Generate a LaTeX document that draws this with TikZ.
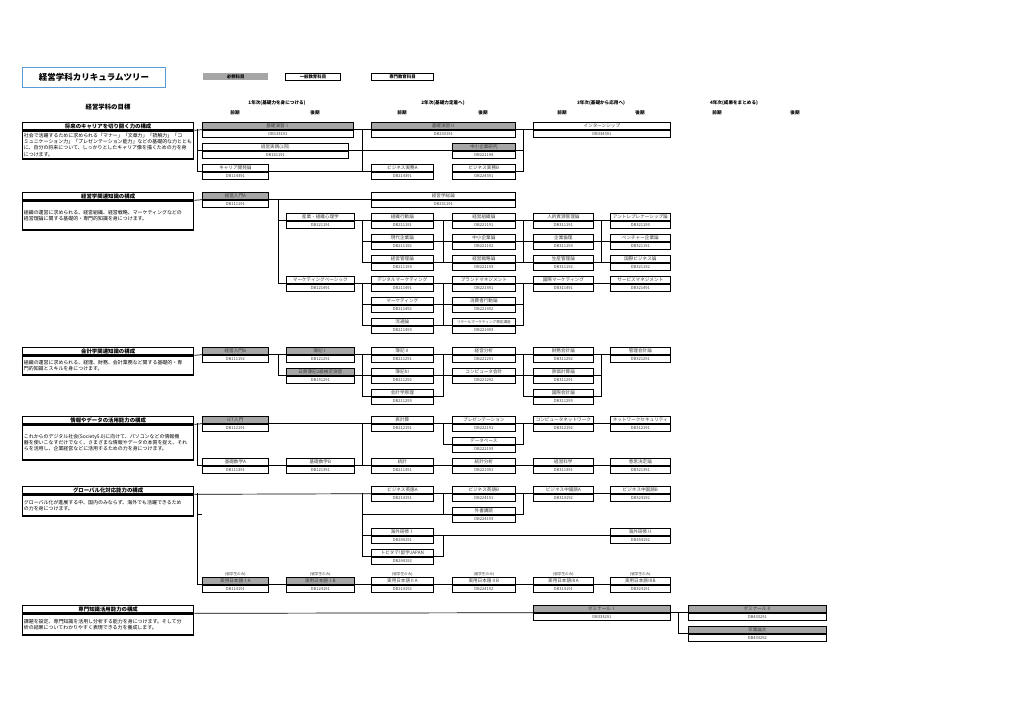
\documentclass[tikz,border=0pt]{standalone}
\usepackage{fontspec}
\setmainfont{Noto Sans CJK JP}
\usetikzlibrary{calc}
\definecolor{req}{RGB}{166,166,166}
\definecolor{ttl}{RGB}{91,155,213}
\definecolor{ctext}{RGB}{60,60,60}
\tikzset{
 cname/.style={draw=black, line width=0.7pt, inner sep=0pt, minimum height=7pt, anchor=north west, font=\fontsize{4.6}{5}\selectfont, text=ctext},
 ccode/.style={draw=black, line width=0.7pt, inner sep=0pt, minimum height=7pt, anchor=north, font=\fontsize{4.1}{5}\selectfont, text=ctext, fill=white},
 gtitle/.style={draw, line width=1.3pt, minimum width=171pt, minimum height=7pt, inner sep=0pt, anchor=north west, font=\bfseries\fontsize{5.4}{5.6}\selectfont},
 gbody/.style={draw, line width=1.3pt, minimum width=171pt, inner xsep=1.2pt, inner ysep=0pt, text width=168.6pt, anchor=north, align=left, font=\fontsize{4.95}{6.1}\selectfont},
 link/.style={line width=0.7pt},
 hdr/.style={font=\bfseries\fontsize{4.6}{5}\selectfont, inner sep=0pt},
 legend/.style={minimum height=7pt, inner sep=0pt, anchor=north west, font=\bfseries\fontsize{4.4}{5}\selectfont},
 onlynote/.style={font=\fontsize{3.6}{4}\selectfont, inner sep=0pt, text=ctext, anchor=south, yshift=0.6pt}
}
\newcommand\crs[7]{%
 \node[cname, minimum width=#4pt, fill=#5] (#1) at (#2,#3) {#6};
 \node[ccode, minimum width=#4pt] (#1c) at (#1.south) {#7};}
\newcommand\goal[5]{%
 \node[gtitle] (#1) at (22,#2) {#4};
 \node[gbody, minimum height=#3pt] (#1b) at (#1.south) {#5};}
\begin{document}
\begin{tikzpicture}[x=1pt,y=-1pt]
\useasboundingbox (0,0) rectangle (1024,724);
\fill[white] (0,0) rectangle (1024,724);
% title and legend
\node[draw=ttl, line width=1pt, minimum width=143pt, minimum height=20pt, inner sep=0pt, anchor=north west, font=\bfseries\fontsize{8.5}{9}\selectfont] (title) at (22,67) {経営学科カリキュラムツリー};
\node[legend, fill=req, minimum width=65pt] (lg1) at (203,73) {必修科目};
\node[legend, draw, line width=0.9pt, minimum width=55pt] (lg2) at (285,73) {一般教育科目};
\node[legend, draw, line width=0.9pt, minimum width=62pt] (lg3) at (371,73) {専門教育科目};
\node[font=\bfseries\fontsize{6.4}{7}\selectfont, inner sep=0pt] (goalhd) at (108,107) {経営学科の目標};
% year headers
\node[hdr] (y1) at (277,103) {1年次(基礎力を身につける)};
\node[hdr] (y1a) at (235,113) {前期};
\node[hdr] (y1b) at (315,113) {後期};
\node[hdr] (y2) at (443,103) {2年次(基礎力定着へ)};
\node[hdr] (y2a) at (402,113) {前期};
\node[hdr] (y2b) at (483,113) {後期};
\node[hdr] (y3) at (601,103) {3年次(基礎から応用へ)};
\node[hdr] (y3a) at (562,113) {前期};
\node[hdr] (y3b) at (640,113) {後期};
\node[hdr] (y4) at (734,103) {4年次(成果をまとめる)};
\node[hdr] (y4a) at (717,113) {前期};
\node[hdr] (y4b) at (795,113) {後期};
% goals
\goal{g1}{122}{28}{将来のキャリアを切り開く力の構成}{社会で活躍するために求められる「マナー」「文章力」「読解力」「コ\\ミュニケーション力」「プレゼンテーション能力」などの基礎的な力ととも\\に、自分の将来について、しっかりとしたキャリア像を描くための力を身\\につけます。}
\goal{g2}{192}{29}{経営学関連知識の構成}{組織の運営に求められる、経営組織、経営戦略、マーケティングなどの\\経営理論に関する基礎的・専門的知識を身につけます。}
\goal{g3}{347}{19}{会計学関連知識の構成}{組織の運営に求められる、経理、財務、会計業務など関する基礎的・専\\門的知識とスキルを身につけます。}
\goal{g4}{416}{35}{情報やデータの活用能力の構成}{これからのデジタル社会(Society5.0)に向けて、パソコンなどの情報機\\器を使いこなすだけでなく、さまざまな情報やデータの本質を捉え、それ\\らを活用し、企業経営などに活用するための力を身につけます。}
\goal{g5}{486}{21}{グローバル化対応能力の構成}{グローバル化が進展する中、国内のみならず、海外でも活躍できるため\\の力を身につけます。}
\goal{g6}{605}{21}{専門知識活用能力の構成}{課題を設定、専門知識を活用し分析する能力を身につけます。そして分\\析の結果についてわかりやすく表現できる力を養成します。}
% ---- section 1
\crs{kiso1}{202}{122}{151}{req}{基礎演習Ⅰ}{DB133191}
\crs{jissen}{202}{143}{146}{white}{経営実践(1回)}{DB161191}
\crs{career}{202}{164}{66}{white}{キャリア開発論}{DB114391}
\crs{kiso2}{371}{122}{144}{req}{基礎演習Ⅱ}{DB233191}
\crs{chusho}{452}{143}{63}{req}{中小企業研究}{DB221194}
\crs{bizA}{371}{164}{62}{white}{ビジネス実務A}{DB214391}
\crs{bizB}{452}{164}{63}{white}{ビジネス実務B}{DB224391}
\crs{intern}{533}{122}{137}{white}{インターンシップ}{DB334391}
% ---- section 2
\crs{keiA}{202}{192}{66}{req}{経営入門A}{DB111191}
\crs{soron}{371}{192}{144}{white}{経営学総論}{DB231191}
\crs{sangyo}{286}{213}{68}{white}{産業・組織心理学}{DB121191}
\crs{mktb}{286}{276}{68}{white}{マーケティングベーシック}{DB121491}
\crs{soshiki}{371}{213}{62}{white}{組織行動論}{DB211191}
\crs{gendai}{371}{234}{62}{white}{現代企業論}{DB211192}
\crs{keikan}{371}{255}{62}{white}{経営管理論}{DB211193}
\crs{digi}{371}{276}{62}{white}{デジタルマーケティング}{DB211491}
\crs{mkt}{371}{297}{62}{white}{マーケティング}{DB211492}
\crs{ryutsu}{371}{318}{62}{white}{流通論}{DB211493}
\crs{soshikiron}{452}{213}{63}{white}{経営組織論}{DB221191}
\crs{chushoron}{452}{234}{63}{white}{中小企業論}{DB221192}
\crs{senryaku}{452}{255}{63}{white}{経営戦略論}{DB221193}
\crs{brand}{452}{276}{63}{white}{ブランドマネジメント}{DB221491}
\crs{shohi}{452}{297}{63}{white}{消費者行動論}{DB221492}
\node[cname, minimum width=63pt, fill=white, font=\fontsize{3.6}{4}\selectfont] (retail) at (452,318) {リテールマーケティング検定講座};
\node[ccode, minimum width=63pt] (retailc) at (retail.south) {DB221493};
\crs{jinteki}{533}{213}{60}{white}{人的資源管理論}{DB311191}
\crs{rinri}{533}{234}{60}{white}{企業倫理}{DB311193}
\crs{seisan}{533}{255}{60}{white}{生産管理論}{DB311192}
\crs{kokumkt}{533}{276}{60}{white}{国際マーケティング}{DB311491}
\crs{entre}{610}{213}{60}{white}{アントレプレナーシップ論}{DB321193}
\crs{venture}{610}{234}{60}{white}{ベンチャー企業論}{DB321191}
\crs{kokubiz}{610}{255}{60}{white}{国際ビジネス論}{DB321192}
\crs{service}{610}{276}{60}{white}{サービスマネジメント}{DB321491}
% ---- section 3
\crs{keiB}{202}{347}{66}{req}{経営入門B}{DB111192}
\crs{boki1}{286}{347}{68}{req}{簿記Ⅰ}{DB121291}
\crs{nissho}{286}{368}{68}{req}{日商簿記2級検定演習}{DB151291}
\crs{boki2}{371}{347}{62}{white}{簿記Ⅱ}{DB211291}
\crs{boki3}{371}{368}{62}{white}{簿記Ⅲ}{DB211292}
\crs{genri}{371}{389}{62}{white}{会計学原理}{DB211293}
\crs{bunseki}{452}{347}{63}{white}{経営分析}{DB221291}
\crs{compk}{452}{368}{63}{white}{コンピュータ会計}{DB221292}
\crs{zaimu}{533}{347}{60}{white}{財務会計論}{DB311292}
\crs{genka}{533}{368}{60}{white}{原価計算論}{DB311291}
\crs{kokukai}{533}{389}{60}{white}{国際会計論}{DB311293}
\crs{kanri}{610}{347}{60}{white}{管理会計論}{DB321291}
% ---- section 4
\crs{ict}{202}{416}{66}{req}{ICT入門}{DB112191}
\crs{sugA}{202}{458}{66}{white}{基礎数学A}{DB111391}
\crs{sugB}{286}{458}{68}{white}{基礎数学B}{DB121391}
\crs{hyokei}{371}{416}{62}{white}{表計算}{DB212191}
\crs{tokei}{371}{458}{62}{white}{統計}{DB211391}
\crs{presen}{452}{416}{63}{white}{プレゼンテーション}{DB222191}
\crs{db}{452}{437}{63}{white}{データベース}{DB222193}
\crs{tbun}{452}{458}{63}{white}{統計分析}{DB221391}
\crs{compnet}{533}{416}{60}{white}{コンピュータネットワーク}{DB312192}
\crs{kagaku}{533}{458}{60}{white}{経営科学}{DB311391}
\crs{netsec}{610}{416}{60}{white}{ネットワークセキュリティ}{DB312191}
\crs{ishi}{610}{458}{60}{white}{意思決定論}{DB321391}
% ---- section 5
\crs{eiA}{371}{486}{62}{white}{ビジネス英語A}{DB214191}
\crs{eiB}{452}{486}{63}{white}{ビジネス英語B}{DB224191}
\crs{chuA}{533}{486}{60}{white}{ビジネス中国語A}{DB314192}
\crs{chuB}{610}{486}{60}{white}{ビジネス中国語B}{DB324192}
\crs{gaisho}{452}{507}{63}{white}{外書講読}{DB224193}
\crs{kaigai1}{371}{528}{62}{white}{海外研修Ⅰ}{DB244191}
\crs{kaigai2}{610}{528}{60}{white}{海外研修Ⅱ}{DB354192}
\crs{tobi}{371}{549}{62}{white}{トビタテ!留学JAPAN}{DB244192}
\crs{jpIA}{202}{577}{66}{req}{実用日本語ⅠA}{DB114191}
\crs{jpIB}{286}{577}{68}{req}{実用日本語ⅠB}{DB124191}
\crs{jpIIA}{371}{577}{62}{white}{実用日本語ⅡA}{DB214192}
\crs{jpIIB}{452}{577}{63}{white}{実用日本語ⅡB}{DB224192}
\crs{jpIIIA}{533}{577}{60}{white}{実用日本語ⅢA}{DB314191}
\crs{jpIIIB}{610}{577}{60}{white}{実用日本語ⅢB}{DB324191}
\foreach \j/\k in {jpIA/na,jpIB/nb,jpIIA/nc,jpIIB/nd,jpIIIA/ne,jpIIIB/nf}
  \node[onlynote] (\k) at (\j.north) {(留学生のみ)};
% ---- section 6
\crs{semi1}{533}{605}{137}{req}{ゼミナールⅠ}{DB333291}
\crs{semi2}{688}{605}{138}{req}{ゼミナールⅡ}{DB433291}
\crs{sotsu}{688}{626}{138}{req}{卒業論文}{DB433292}
% ---- junction coordinates
\coordinate (s1a) at (197,129); \coordinate (s1b) at (362,129); \coordinate (s1c) at (523,129);
\coordinate (s2a) at (278,199); \coordinate (s2b) at (362,220); \coordinate (s2c) at (443,220);
\coordinate (s2d) at (523,220); \coordinate (s2e) at (601,220);
\coordinate (s2f) at (362,283); \coordinate (s2g) at (443,283); \coordinate (s2h) at (523,283);
\coordinate (s3a) at (278,354); \coordinate (s3b) at (362,354); \coordinate (s3c) at (443,354);
\coordinate (s3d) at (523,354); \coordinate (s3e) at (601,354);
\coordinate (s4a) at (197,423); \coordinate (s4b) at (362,423); \coordinate (s4c) at (443,423); \coordinate (s4d) at (523,423);
\coordinate (s5a) at (197,493); \coordinate (s5b) at (362,493); \coordinate (s5c) at (443,493); \coordinate (s5d) at (523,493);
\coordinate (s5e) at (443,535); \coordinate (s5stub) at (202,514);
\coordinate (s6a) at (678,612);
\begin{scope}[link]
% section 1
\draw (g1.south east) -- (kiso1.south west);
\draw (kiso1.south east) -- (kiso2.south west);
\draw (kiso2.south east) -- (intern.south west);
\draw (s1a) |- (career.south west);
\draw (s1a |- jissen.south west) -- (jissen.south west);
\draw (jissen.south east) -- (chusho.south west);
\draw (chusho.south east) -- (s1c |- chusho.south east);
\draw (career.south east) -- (bizA.south west);
\draw (s1b) -- (s1b |- bizA.south west);
\draw (s1c) |- (bizB.south east);
% section 2
\draw (g2.south east) -- (keiA.south west);
\draw (keiA.south east) -- (soron.south west);
\draw (s2a) |- (mktb.south west);
\draw (s2a |- sangyo.south west) -- (sangyo.south west);
\draw (sangyo.south east) -- (soshiki.south west);
\draw (s2b) |- (keikan.south west);
\draw (s2b |- gendai.south west) -- (gendai.south west);
\draw (soshiki.south east) -- (soshikiron.south west);
\draw (gendai.south east) -- (chushoron.south west);
\draw (keikan.south east) -- (senryaku.south west);
\draw (s2c) -- (s2c |- keikan.south east);
\draw (soshikiron.south east) -- (jinteki.south west);
\draw (chushoron.south east) -- (rinri.south west);
\draw (senryaku.south east) -- (seisan.south west);
\draw (s2d) -- (s2d |- senryaku.south east);
\draw (jinteki.south east) -- (entre.south west);
\draw (rinri.south east) -- (venture.south west);
\draw (seisan.south east) -- (kokubiz.south west);
\draw (s2e) -- (s2e |- seisan.south east);
\draw (mktb.south east) -- (digi.south west);
\draw (s2f) |- (ryutsu.south west);
\draw (s2f |- mkt.south west) -- (mkt.south west);
\draw (digi.south east) -- (brand.south west);
\draw (mkt.south east) -- (shohi.south west);
\draw (ryutsu.south east) -- (retail.south west);
\draw (s2g) -- (s2g |- ryutsu.south east);
\draw (brand.south east) -- (kokumkt.south west);
\draw (s2h) |- (retail.south east);
\draw (shohi.south east) -- (s2h |- shohi.south east);
\draw (kokumkt.south east) -- (service.south west);
% section 3
\draw (g3.south east) -- (keiB.south west);
\draw (keiB.south east) -- (boki1.south west);
\draw (boki1.south east) -- (boki2.south west);
\draw (s3a) |- (nissho.south west);
\draw (nissho.south east) -- (boki3.south west);
\draw (s3b) |- (genri.south west);
\draw (boki2.south east) -- (bunseki.south west);
\draw (boki3.south east) -- (compk.south west);
\draw (s3c) |- (genri.south east);
\draw (bunseki.south east) -- (zaimu.south west);
\draw (compk.south east) -- (genka.south west);
\draw (s3d) |- (kokukai.south west);
\draw (zaimu.south east) -- (kanri.south west);
\draw (s3e) |- (kokukai.south east);
\draw (genka.south east) -- (s3e |- genka.south east);
% section 4
\draw (g4.south east) -- (ict.south west);
\draw (ict.south east) -- (hyokei.south west);
\draw (s4a) |- (sugA.south west);
\draw (sugA.south east) -- (sugB.south west);
\draw (sugB.south east) -- (tokei.south west);
\draw (s4b) -- (s4b |- tokei.south west);
\draw (tokei.south east) -- (tbun.south west);
\draw (tbun.south east) -- (kagaku.south west);
\draw (kagaku.south east) -- (ishi.south west);
\draw (hyokei.south east) -- (presen.south west);
\draw (s4c) |- (db.south west);
\draw (presen.south east) -- (compnet.south west);
\draw (s4d) |- (db.south east);
\draw (compnet.south east) -- (netsec.south west);
% section 5
\draw (g5.south east) -- (eiA.south west);
\draw (s5a) |- (jpIA.south west);
\draw (s5a |- s5stub) -- (s5stub);
\draw (s5b) |- (tobi.south west);
\draw (s5b |- gaisho.south west) -- (gaisho.south west);
\draw (s5b |- kaigai1.south west) -- (kaigai1.south west);
\draw (eiA.south east) -- (eiB.south west);
\draw (s5c) -- (s5c |- gaisho.south west);
\draw (eiB.south east) -- (chuA.south west);
\draw (s5d) |- (gaisho.south east);
\draw (chuA.south east) -- (chuB.south west);
\draw (kaigai1.south east) -- (kaigai2.south west);
\draw (tobi.south east) -| (s5e);
\draw (jpIA.south east) -- (jpIB.south west);
\draw (jpIB.south east) -- (jpIIA.south west);
\draw (jpIIA.south east) -- (jpIIB.south west);
\draw (jpIIB.south east) -- (jpIIIA.south west);
\draw (jpIIIA.south east) -- (jpIIIB.south west);
% section 6
\draw (g6.south east) -- (semi1.south west);
\draw (semi1.south east) -- (semi2.south west);
\draw (s6a) |- (sotsu.south west);
\end{scope}
\end{tikzpicture}
\end{document}
